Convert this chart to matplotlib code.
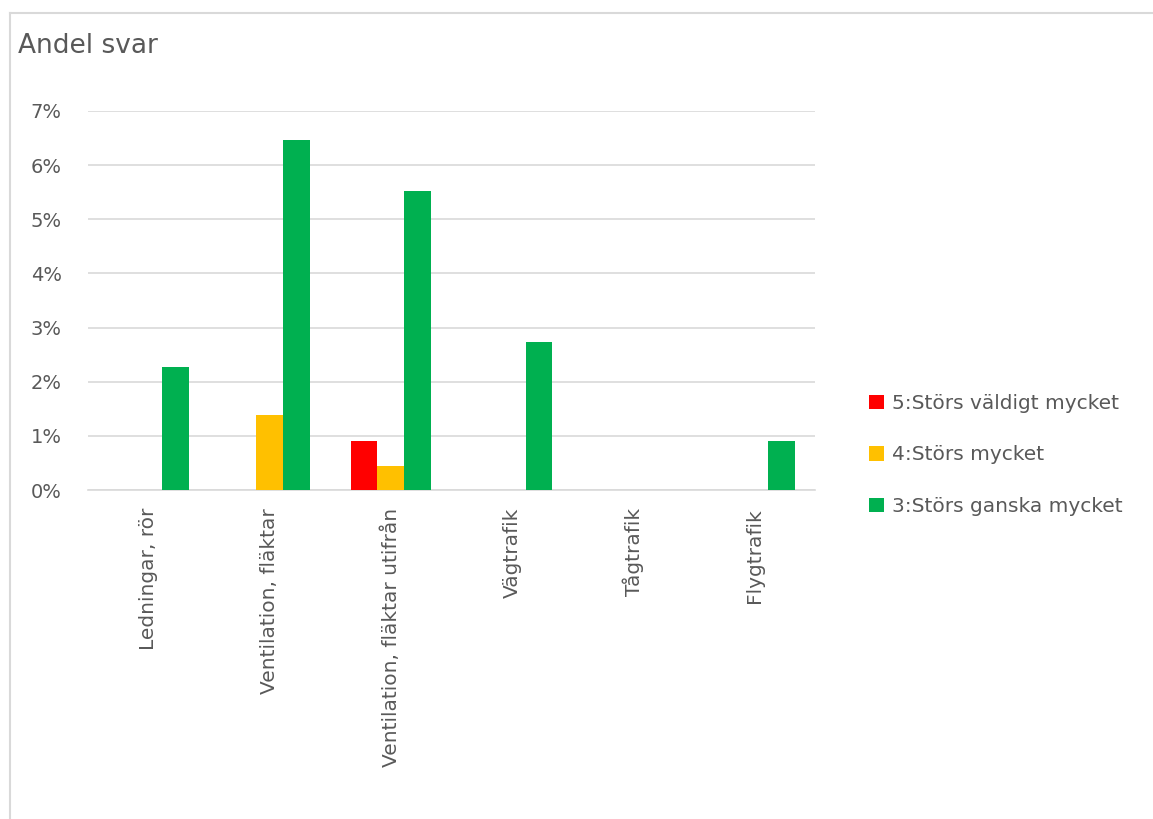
import matplotlib
matplotlib.use("Agg")
import matplotlib.pyplot as plt
from matplotlib.lines import Line2D
import numpy as np

categories = ["Ledningar, rör", "Ventilation, fläktar", "Ventilation, fläktar utifrån",
              "Vägtrafik", "Tågtrafik", "Flygtrafik"]
series_names = ["5:Störs väldigt mycket", "4:Störs mycket", "3:Störs ganska mycket"]
s5 = [0.0, 0.0, 0.91, 0.0, 0.0, 0.0]
s4 = [0.0, 1.38, 0.44, 0.0, 0.0, 0.0]
s3 = [2.27, 6.46, 5.52, 2.73, 0.0, 0.91]
colors = ["#FF0000", "#FFC000", "#00B050"]
yticks = [0, 1, 2, 3, 4, 5, 6, 7]
title = "Andel svar"

plt.rcParams['font.family'] = ['DejaVu Sans']
W, H = 1153, 819
fig = plt.figure(figsize=(W/100, H/100), dpi=100)

# frame lines (top and left)
fig.add_artist(Line2D([10/W, 1], [1-13/H, 1-13/H], color="#d9d9d9", lw=1.5, transform=fig.transFigure))
fig.add_artist(Line2D([10/W, 10/W], [0, 1-13/H], color="#d9d9d9", lw=1.5, transform=fig.transFigure))

ax = fig.add_axes([88/W, 1-490/H, (815-88)/W, (490-111)/H])
x = np.arange(len(categories))
bw = 0.222
for i, (vals, c, name) in enumerate(zip([s5, s4, s3], colors, series_names)):
    ax.bar(x + (i-1)*bw, vals, width=bw, color=c, label=name, zorder=3)

ax.set_xlim(-0.5, len(categories)-0.5)
ax.set_ylim(0, 7)
ax.set_yticks(yticks)
ax.set_yticklabels([f"{v}%" for v in yticks])
ax.yaxis.grid(True, color="#d9d9d9", lw=1.2, zorder=0)
ax.set_axisbelow(True)
for s in ["top", "right", "left"]:
    ax.spines[s].set_visible(False)
ax.spines["bottom"].set_color("#d9d9d9")
ax.spines["bottom"].set_linewidth(1.2)
ax.tick_params(axis="y", length=0, pad=19, labelsize=14, labelcolor="#595959")
ax.set_xticks(x)
ax.set_xticklabels(categories, rotation=90, va="top", ha="center")
ax.tick_params(axis="x", length=0, pad=13, labelsize=14.5, labelcolor="#595959")

fig.text(18/W, 1-46/H, title, fontsize=19, color="#595959", va="center", ha="left")

leg = ax.legend(loc="center left", bbox_to_anchor=(851/W, 1-455/H), bbox_transform=fig.transFigure,
                frameon=False, fontsize=14.5, labelspacing=1.62, handlelength=0.72, handleheight=0.72,
                handletextpad=0.4)
for t in leg.get_texts():
    t.set_color("#595959")

fig.savefig("out.png", dpi=100, facecolor="white")
